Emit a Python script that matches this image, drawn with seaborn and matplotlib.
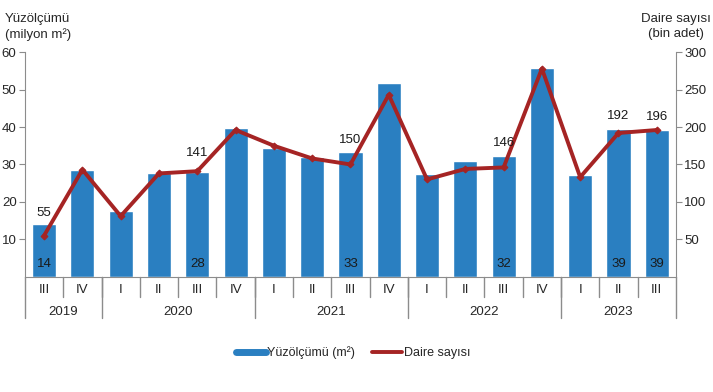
import matplotlib
matplotlib.use('Agg')
import matplotlib.pyplot as plt
from matplotlib.lines import Line2D
import seaborn as sns
import pandas as pd
import numpy as np

# quarterly values
quarters = ['III', 'IV', 'I', 'II', 'III', 'IV', 'I', 'II', 'III', 'IV',
            'I', 'II', 'III', 'IV', 'I', 'II', 'III']
years = ['2019', '2020', '2021', '2022', '2023']
year_counts = [2, 4, 4, 4, 3]
area = [14.0, 28.6, 17.5, 27.6, 27.9, 39.8, 34.3, 31.9, 33.4, 51.8,
        27.4, 30.9, 32.2, 55.7, 27.1, 39.4, 39.1]
dwellings = [55, 143, 81, 138, 141, 196, 175, 158, 150, 243,
             130, 144, 146, 278, 133, 192, 196]
area_labels = {0: '14', 4: '28', 8: '33', 12: '32', 15: '39', 16: '39'}
dw_labels = {0: '55', 4: '141', 8: '150', 12: '146', 15: '192', 16: '196'}

blue = '#2a7fc1'
red = '#a52424'
grey = '#8c8c8c'
fs = 9

sns.set_style('white')
plt.rcParams['font.family'] = ['Liberation Sans', 'DejaVu Sans']
plt.rcParams['font.size'] = fs

df = pd.DataFrame({'pos': range(len(quarters)), 'area': area, 'dw': dwellings})

fig = plt.figure(figsize=(7.13, 3.92), dpi=100)
ax = fig.add_axes([0.035, 0.294, 0.913, 0.573])
sns.barplot(data=df, x='pos', y='area', color=blue, width=0.63, saturation=1, ax=ax)
ax.set_xlim(-0.5, len(quarters) - 0.5)
ax.set_ylim(0, 60)
ax.set_yticks([10, 20, 30, 40, 50, 60])
ax.set_xticks([])
ax.set_xlabel('')
ax.set_ylabel('')
for s in ['top', 'right']:
    ax.spines[s].set_visible(False)
for s in ['left', 'bottom']:
    ax.spines[s].set_color(grey)
ax.tick_params(axis='y', length=4, color=grey, left=True, labelsize=fs + 0.5, pad=2)

for i, t in area_labels.items():
    ax.text(i, 1.7, t, ha='center', va='bottom', fontsize=fs + 0.5, color='#1a1a1a')

ax2 = ax.twinx()
sns.lineplot(data=df, x='pos', y='dw', color=red, lw=2.8, marker='D', markersize=3.5,
             markeredgecolor=red, ax=ax2)
ax2.set_ylim(0, 300)
ax2.set_yticks([50, 100, 150, 200, 250, 300])
ax2.set_xlim(-0.5, len(quarters) - 0.5)
ax2.set_ylabel('')
ax2.set_xlabel('')
for s in ['top', 'left', 'bottom']:
    ax2.spines[s].set_visible(False)
ax2.spines['right'].set_color(grey)
ax2.tick_params(axis='y', length=4, color=grey, right=True, labelsize=fs + 0.5, pad=2)
gaps = {0: 12, 4: 9, 8: 13, 12: 13, 15: 8, 16: 5}
for i, t in dw_labels.items():
    ax2.annotate(t, (i, dwellings[i]), xytext=(0, gaps[i]), textcoords='offset points',
                 ha='center', va='bottom', fontsize=fs + 0.5, color='#1a1a1a')

# two level category axis
tr = ax.get_xaxis_transform()
for i, q in enumerate(quarters):
    ax.text(i, -0.058, q, transform=tr, ha='center', va='center', fontsize=fs + 0.5)
for i in range(1, len(quarters)):
    ax.plot([i - 0.5, i - 0.5], [0, -0.09], transform=tr, color=grey, lw=1, clip_on=False)
start = 0
bounds = [-0.5]
for y, n in zip(years, year_counts):
    ax.text(start + (n - 1) / 2, -0.157, y, transform=tr, ha='center', va='center',
            fontsize=fs + 0.5)
    start += n
    bounds.append(start - 0.5)
for b in bounds:
    ax.plot([b, b], [0, -0.185], transform=tr, color=grey, lw=1, clip_on=False)

fig.text(0.007, 0.966, 'Yüzölçümü\n(milyon m²)', ha='left', va='top', fontsize=fs + 0.5,
         linespacing=1.25)
fig.text(0.997, 0.966, 'Daire sayısı\n(bin adet)', ha='right', va='top', fontsize=fs + 0.5,
         linespacing=1.25, multialignment='center')

handles = [Line2D([], [], color=blue, lw=5), Line2D([], [], color=red, lw=2.8)]
fig.legend(handles, ['Yüzölçümü (m²)', 'Daire sayısı'], loc='center', ncol=2,
           bbox_to_anchor=(0.495, 0.1), frameon=False, fontsize=fs, handlelength=2.4,
           handletextpad=0.1, columnspacing=1.4)

fig.savefig('out.png', dpi=100)
